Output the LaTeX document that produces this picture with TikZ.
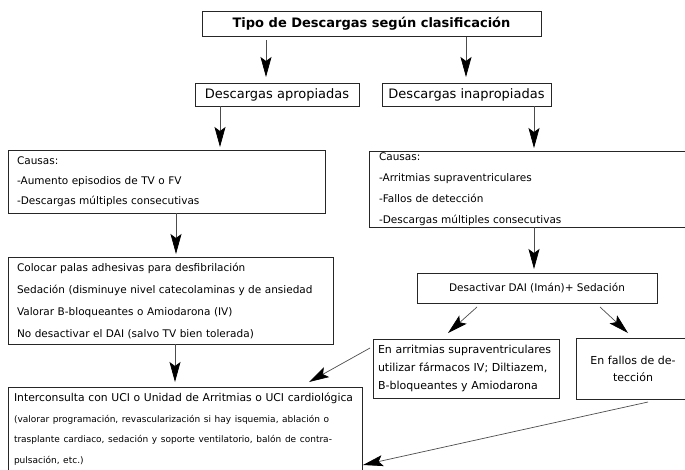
\documentclass[tikz,border=0pt]{standalone}
\usepackage{fontspec}
\setmainfont{DejaVu Sans}
\usetikzlibrary{arrows.meta,calc}
\tikzset{
  box/.style={draw=black!85, line width=0.8pt, anchor=north west, inner ysep=0pt, outer sep=0pt},
  arr/.style={draw=black!70, line width=0.7pt, -{Stealth[length=20pt,width=11pt,inset=4pt,color=black]}},
}
\begin{document}
\begin{tikzpicture}[x=1pt,y=-1pt]
\useasboundingbox (0,0) rectangle (685,469);
% boxes
\node[box, minimum width=339pt, minimum height=25pt, inner xsep=0pt, align=center,
      font=\fontsize{13}{15}\selectfont\bfseries] (title) at (202,11) {Tipo de Descargas según clasificación};
\node[box, minimum width=164pt, minimum height=23pt, inner xsep=0pt, align=center,
      font=\fontsize{13}{15}\selectfont] (aprop) at (195,83) {Descargas apropiadas};
\node[box, minimum width=169pt, minimum height=23pt, inner xsep=0pt, align=center,
      font=\fontsize{13}{15}\selectfont] (inaprop) at (382,83) {Descargas inapropiadas};
\node[box, minimum width=317pt, minimum height=63pt, inner xsep=9pt, text width=299pt, align=left,
      font=\fontsize{10.5}{20}\selectfont] (causasL) at (8,150)
  {Causas:\\-Aumento episodios de TV o FV\\-Descargas múltiples consecutivas};
\node[box, minimum width=325pt, minimum height=76pt, inner xsep=10pt, text width=305pt, align=left,
      font=\fontsize{10.5}{21}\selectfont] (causasR) at (369,151)
  {Causas:\\-Arritmias supraventriculares\\-Fallos de detección\\-Descargas múltiples consecutivas};
\node[box, minimum width=325pt, minimum height=87pt, inner xsep=9pt, text width=307pt, align=left,
      font=\fontsize{10.5}{22}\selectfont] (colocar) at (8,257)
  {Colocar palas adhesivas para desfibrilación\\Sedación (disminuye nivel catecolaminas y de ansiedad\\Valorar B-bloqueantes o Amiodarona (IV)\\No desactivar el DAI (salvo TV bien tolerada)};
\node[box, minimum width=240pt, minimum height=30pt, inner xsep=0pt, align=center,
      font=\fontsize{10.5}{13}\selectfont] (desact) at (417,273) {Desactivar DAI (Imán)+ Sedación};
\node[box, minimum width=186pt, minimum height=59pt, inner xsep=5pt, text width=176pt, align=left,
      font=\fontsize{11}{18}\selectfont] (arrit) at (373,339)
  {\mbox{En arritmias supraventriculares}\\\mbox{utilizar fármacos IV; Diltiazem,}\\B-bloqueantes y Amiodarona};
\node[box, minimum width=114pt, minimum height=61pt, inner xsep=0pt, align=center,
      font=\fontsize{11}{17}\selectfont] (fallos) at (576,338) {En fallos de de-\\tección};
\node[box, minimum width=354pt, minimum height=84pt, inner xsep=6pt, text width=342pt, align=left,
      font=\fontsize{10.8}{20.5}\selectfont] (inter) at (8,387)
  {\mbox{Interconsulta con UCI o Unidad de Arritmias o UCI cardiológica}\\
   \fontsize{9}{20.5}\selectfont
   \mbox{(valorar programación, revascularización si hay isquemia, ablación o}\\
   \mbox{trasplante cardiaco, sedación y soporte ventilatorio, balón de contra-}\\
   pulsación, etc.)};
% connectors
\draw[arr] ($(title.south west)+(64,4)$) -- ($(aprop.north west)+(71,-6)$);
\draw[arr] ($(title.south west)+(264,1)$) -- ($(inaprop.north west)+(84,-6)$);
\draw[arr] ($(aprop.south west)+(25,0)$) -- ($(causasL.north west)+(212,-3)$);
\draw[arr] ($(inaprop.south west)+(152,0)$) -- ($(causasR.north west)+(165,-3)$);
\draw[arr] ($(causasL.south west)+(168,0)$) -- ($(colocar.north west)+(168,-3)$);
\draw[arr] ($(causasR.south west)+(165,0)$) -- ($(desact.north west)+(117,-4)$);
\draw[arr] ($(desact.south west)+(60,4)$) -- ($(arrit.north west)+(75,-6)$);
\draw[arr] ($(desact.south west)+(183,4)$) -- ($(fallos.north west)+(52,-5)$);
\draw[arr] ($(colocar.south west)+(167,0)$) -- ($(inter.north west)+(167,-5)$);
\draw[arr] ($(arrit.north west)+(-3,9)$) -- ($(inter.north west)+(301,-5)$);
\draw[arr] ($(fallos.south west)+(72,3)$) -- ($(inter.north east)+(1,78)$);
\end{tikzpicture}
\end{document}
